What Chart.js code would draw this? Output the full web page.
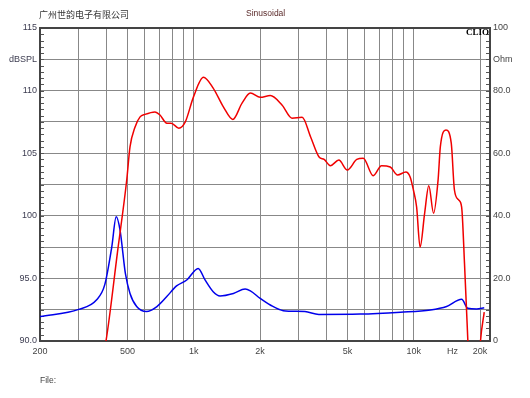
<!DOCTYPE html>
<html>
<head>
<meta charset="utf-8">
<script src="https://cdn.jsdelivr.net/npm/chart.js@4"></script>
<style>
    html, body { margin: 0; padding: 0; background: #fff; }
    #wrap { position: relative; width: 530px; height: 398px; }
    .txt { position: absolute; font-family: 'Liberation Sans', Arial, sans-serif; white-space: nowrap; }
</style>
</head>
<body>
<div id="wrap">
    <canvas id="clioChart"></canvas>
    <div class="txt" style="left:39px; top:8px; font-size:9px; color:#333; font-family:'Noto Sans CJK SC', sans-serif;">广州世韵电子有限公司</div>
    <div class="txt" style="left:246px; top:8px; font-size:8.5px; color:#5a2a2a;">Sinusoidal</div>
    <div class="txt" style="left:40px; top:375px; font-size:8.5px; color:#444;">File:</div>
    <div class="txt" style="left:466px; top:27px; font-size:9px; font-weight:bold; color:#000; font-family:'Liberation Serif', 'Times New Roman', serif;">CLIO</div>
</div>
<script>
// frequency axis (Hz)
const xTickValues = [200, 300, 400, 500, 600, 700, 800, 900, 1000, 2000, 3000, 4000, 5000, 6000, 7000, 8000, 9000, 10000, 15000, 20000];
const xTickLabels = { 200: '200', 500: '500', 1000: '1k', 2000: '2k', 5000: '5k', 10000: '10k', 15000: 'Hz', 20000: '20k' };

// left axis (dB SPL) and right axis (Ohm)
const splLabels = { '115': '115', '112.5': 'dBSPL', '110': '110', '105': '105', '100': '100', '95': '95.0', '90': '90.0' };
const ohmLabels = { '100': '100', '90': 'Ohm', '80': '80.0', '60': '60.0', '40': '40.0', '20': '20.0', '0': '0' };

// SPL response (red)
const splFreq = [385, 399, 450, 496, 513, 541, 570, 600, 666, 702, 754, 789, 855, 915, 997, 1106, 1225, 1363, 1505, 1657, 1808, 2004, 2227, 2517, 2795, 3107, 3397, 3711, 3913, 4176, 4563, 4986, 5506, 5890, 6540, 7135, 7813, 8432, 9203, 9623, 9960, 10300, 10680, 11200, 11700, 12300, 12900, 13200, 14000, 14800, 15300, 16000, 16500, 17000, 17600, 18000, 19500, 20100, 20900];
const splDb = [88.8, 90.0, 97.1, 102.9, 105.5, 107.1, 107.9, 108.1, 108.3, 108.05, 107.4, 107.4, 107.0, 107.5, 109.5, 111.06, 110.2, 108.7, 107.7, 109.0, 109.8, 109.46, 109.6, 108.85, 107.8, 107.87, 106.3, 104.7, 104.5, 104.0, 104.45, 103.66, 104.5, 104.6, 103.2, 104.0, 103.9, 103.26, 103.5, 103.1, 102.06, 100.7, 97.5, 100.2, 102.4, 100.2, 102.9, 105.5, 106.85, 105.8, 102.06, 101.26, 100.7, 96.2, 90.1, 86.0, 86.0, 90.0, 92.3];

// impedance (blue)
const impFreq = [200, 300, 361, 394, 424, 444, 462, 489, 513, 550, 610, 680, 754, 835, 929, 1047, 1125, 1225, 1316, 1514, 1712, 1808, 2004, 2227, 2550, 3200, 3700, 5700, 8700, 11900, 14100, 16500, 17600, 19300, 20900];
const impOhm = [7.8, 10.1, 13.1, 18.0, 30.1, 39.7, 35.5, 21.5, 15.2, 11.0, 9.4, 11.0, 14.2, 17.6, 19.5, 23.2, 19.5, 15.75, 14.4, 15.2, 16.6, 16.0, 13.6, 11.5, 9.7, 9.4, 8.5, 8.6, 9.2, 9.9, 11.0, 13.3, 10.45, 10.2, 10.6];

const toPoints = (xs, ys) => xs.map((x, i) => ({ x: x, y: ys[i] }));
const tickFont = { family: "'Liberation Sans', Arial, sans-serif", size: 9 };

// minor ticks on both vertical axes + dark frame
const framePlugin = {
    id: 'frame',
    beforeDatasetsDraw(chart) {
        const { ctx, chartArea: a, scales } = chart;
        ctx.save();
        ctx.strokeStyle = '#555';
        ctx.lineWidth = 1;
        ctx.beginPath();
        for (let v = 90; v <= 115.001; v += 0.5) {
            const y = Math.round(scales.y.getPixelForValue(v)) + 0.5;
            ctx.moveTo(a.left, y);
            ctx.lineTo(a.left + 4, y);
        }
        for (let v = 0; v <= 100.001; v += 2) {
            const y = Math.round(scales.y2.getPixelForValue(v)) + 0.5;
            ctx.moveTo(a.right - 4, y);
            ctx.lineTo(a.right, y);
        }
        ctx.stroke();
        ctx.strokeStyle = '#444';
        ctx.lineWidth = 2;
        ctx.strokeRect(a.left, a.top, a.right - a.left, a.bottom - a.top);
        ctx.restore();
    }
};

const ctx = document.getElementById('clioChart').getContext('2d');
new Chart(ctx, {
    type: 'line',
    data: {
        datasets: [{
            label: 'SPL',
            data: toPoints(splFreq, splDb),
            yAxisID: 'y',
            borderColor: 'rgb(240, 0, 0)',
            borderWidth: 1.5,
            pointRadius: 0,
            cubicInterpolationMode: 'monotone',
            fill: false
        }, {
            label: 'Impedance',
            data: toPoints(impFreq, impOhm),
            yAxisID: 'y2',
            borderColor: 'rgb(0, 0, 235)',
            borderWidth: 1.5,
            pointRadius: 0,
            cubicInterpolationMode: 'monotone',
            fill: false
        }]
    },
    options: {
        responsive: true,
        maintainAspectRatio: false,
        animation: false,
        layout: { padding: { top: 28, left: 0, right: 0, bottom: 0 } },
        plugins: {
            legend: { display: false },
            tooltip: { enabled: false }
        },
        scales: {
            x: {
                type: 'logarithmic',
                min: 200,
                max: 22200,
                afterBuildTicks: s => { s.ticks = xTickValues.map(v => ({ value: v })); },
                afterFit: s => { s.height = 57; },
                border: { display: false },
                grid: {
                    drawTicks: false,
                    color: c => (c.tick && c.tick.value === 15000) ? 'rgba(0,0,0,0)' : '#888',
                    lineWidth: 1
                },
                ticks: {
                    autoSkip: false,
                    maxRotation: 0,
                    padding: 5,
                    color: '#444',
                    font: tickFont,
                    callback: v => xTickLabels[v] || ''
                }
            },
            y: {
                type: 'linear',
                position: 'left',
                min: 90,
                max: 115,
                afterFit: s => { s.width = 40; },
                border: { display: false },
                grid: { drawTicks: false, color: '#888', lineWidth: 1 },
                ticks: {
                    stepSize: 2.5,
                    padding: 3,
                    color: '#3c3c50',
                    font: tickFont,
                    callback: v => splLabels[String(Math.round(v * 10) / 10)] || ''
                }
            },
            y2: {
                type: 'linear',
                position: 'right',
                min: 0,
                max: 100,
                afterFit: s => { s.width = 40; },
                border: { display: false },
                grid: { display: false, drawTicks: false },
                ticks: {
                    stepSize: 10,
                    padding: 3,
                    color: '#444',
                    font: tickFont,
                    callback: v => ohmLabels[String(Math.round(v))] || ''
                }
            }
        }
    },
    plugins: [framePlugin]
});
</script>
</body>
</html>
